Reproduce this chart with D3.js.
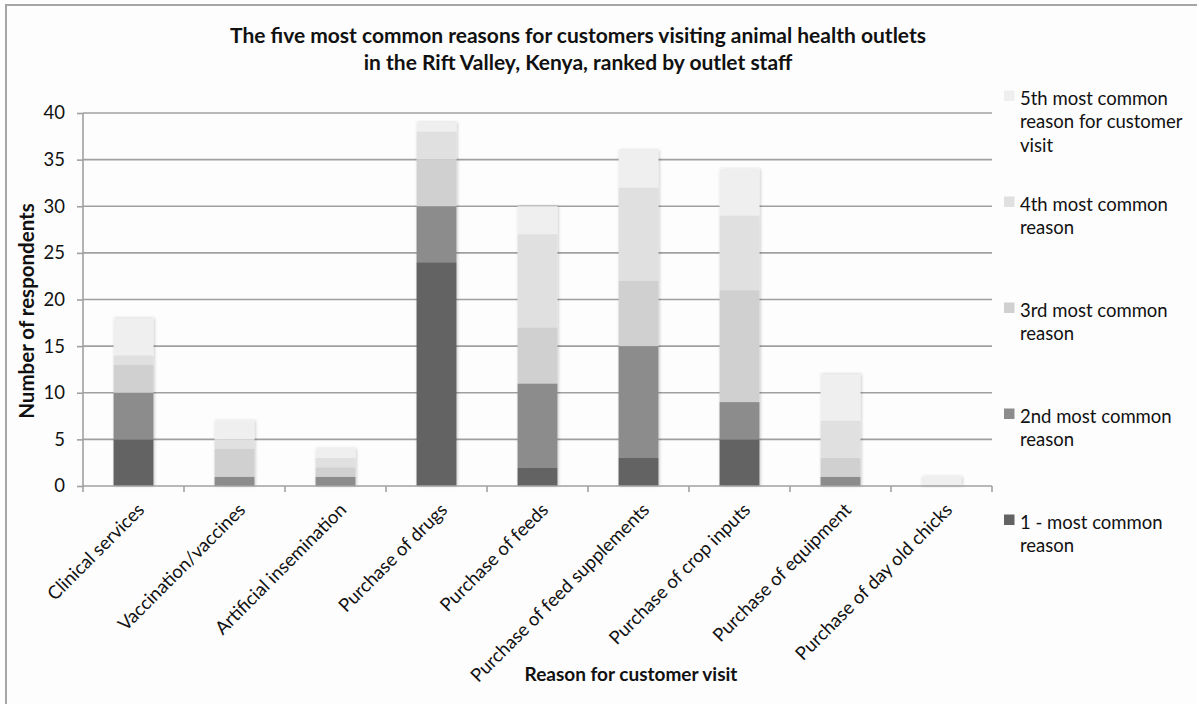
<!DOCTYPE html>
<html>
<head>
<meta charset="utf-8">
<script src="https://cdn.jsdelivr.net/npm/d3@7"></script>
<style>
  html, body { margin: 0; padding: 0; background: #fdfdfd; }
  svg { display: block; }
  text { font-family: Lato, "Open Sans", sans-serif; fill: #111; }
</style>
</head>
<body>
<svg id="chart" width="1197" height="704"></svg>
<script>
// Reasons for customer visits (categories on the x axis)
const categories = [
  "Clinical services",
  "Vaccination/vaccines",
  "Artificial insemination",
  "Purchase of drugs",
  "Purchase of feeds",
  "Purchase of feed supplements",
  "Purchase of crop inputs",
  "Purchase of equipment",
  "Purchase of day old chicks"
];

// Number of respondents per rank, stacked bottom (rank 1) to top (rank 5)
const rank1 = [5, 0, 0, 24, 2, 3, 5, 0, 0];
const rank2 = [5, 1, 1, 6, 9, 12, 4, 1, 0];
const rank3 = [3, 3, 1, 5, 6, 7, 12, 2, 0];
const rank4 = [1, 1, 1, 3, 10, 10, 8, 4, 0];
const rank5 = [4, 2, 1, 1, 3, 4, 5, 5, 1];

const seriesKeys = ["rank1", "rank2", "rank3", "rank4", "rank5"];
const seriesValues = { rank1, rank2, rank3, rank4, rank5 };
const seriesColors = ["#636363", "#8c8c8c", "#d0d0d0", "#e0e0e0", "#efefef"];

// Legend entries, listed top to bottom
const legendLabels = [
  ["5th most common", "reason for customer", "visit"],
  ["4th most common", "reason"],
  ["3rd most common", "reason"],
  ["2nd most common", "reason"],
  ["1 - most common", "reason"]
];
const legendKeys = ["rank5", "rank4", "rank3", "rank2", "rank1"];

const yTicks = [0, 5, 10, 15, 20, 25, 30, 35, 40];

const titleLines = [
  "The five most common reasons for customers visiting animal health outlets",
  "in the Rift Valley, Kenya, ranked  by outlet staff"
];

const svg = d3.select("#chart");
const W = 1197, H = 704;
const plot = { left: 83, right: 992, top: 113, bottom: 486 };
const gridColor = "#a0a0a0";

// outer chart frame
svg.append("rect")
  .attr("x", 0).attr("y", 0).attr("width", W).attr("height", H)
  .attr("fill", "#fdfdfd");
svg.append("rect")
  .attr("x", 6).attr("y", 5).attr("width", W + 10).attr("height", H + 10)
  .attr("fill", "none").attr("stroke", "#a6a6a6").attr("stroke-width", 2);

// soft shadow around bars
const defs = svg.append("defs");
const f = defs.append("filter").attr("id", "barShadow")
  .attr("x", "-20%").attr("y", "-20%").attr("width", "140%").attr("height", "140%");
f.append("feDropShadow").attr("dx", 1).attr("dy", 0).attr("stdDeviation", 1.6)
  .attr("flood-color", "#000").attr("flood-opacity", 0.22);

const x = d3.scaleBand().domain(categories).range([plot.left, plot.right]).padding(0);
const y = d3.scaleLinear().domain([0, 40]).range([plot.bottom, plot.top]);

// horizontal gridlines
svg.append("g").selectAll("line").data(yTicks.filter(d => d > 0)).join("line")
  .attr("x1", plot.left).attr("x2", plot.right)
  .attr("y1", d => y(d)).attr("y2", d => y(d))
  .attr("stroke", gridColor).attr("stroke-width", 1.6);

// stacked bars
const table = categories.map((c, i) => {
  const row = { category: c };
  seriesKeys.forEach(k => { row[k] = seriesValues[k][i]; });
  return row;
});
const stacked = d3.stack().keys(seriesKeys)(table);
const barW = x.bandwidth() * 0.395;

const barGroups = svg.append("g").selectAll("g.bar")
  .data(table.map((row, i) => ({ row, i })))
  .join("g").attr("class", "bar").attr("filter", "url(#barShadow)");

barGroups.each(function (d) {
  const g = d3.select(this);
  stacked.forEach((layer, li) => {
    const seg = layer[d.i];
    if (seg[1] - seg[0] <= 0) return;
    g.append("rect")
      .attr("x", x(d.row.category) + x.bandwidth() / 2 - barW / 2)
      .attr("width", barW)
      .attr("y", y(seg[1]))
      .attr("height", y(seg[0]) - y(seg[1]))
      .attr("fill", seriesColors[li]);
  });
});

// y axis
const yAxis = d3.axisLeft(y).tickValues(yTicks).tickSize(6).tickPadding(12);
const gy = svg.append("g").attr("transform", `translate(${plot.left},0)`).call(yAxis);
gy.select(".domain").attr("stroke", gridColor).attr("stroke-width", 1.6)
  .attr("d", `M0,${plot.top}V${plot.bottom}`);
gy.selectAll(".tick line").attr("stroke", gridColor).attr("stroke-width", 1.6);
gy.selectAll(".tick text").attr("font-size", 18.5).attr("font-family", "Lato, sans-serif")
  .attr("fill", "#111");

// x axis: baseline with ticks at category boundaries
const boundaries = d3.range(categories.length + 1).map(i => plot.left + i * x.step());
svg.append("line")
  .attr("x1", plot.left).attr("x2", plot.right)
  .attr("y1", plot.bottom).attr("y2", plot.bottom)
  .attr("stroke", gridColor).attr("stroke-width", 1.6);
svg.append("g").selectAll("line").data(boundaries).join("line")
  .attr("x1", d => d).attr("x2", d => d)
  .attr("y1", plot.bottom).attr("y2", plot.bottom + 6)
  .attr("stroke", gridColor).attr("stroke-width", 1.6);

// rotated category labels
svg.append("g").selectAll("text").data(categories).join("text")
  .attr("transform", d => `translate(${x(d) + x.bandwidth() / 2 + 12},${plot.bottom + 25}) rotate(-45)`)
  .attr("text-anchor", "end")
  .attr("font-size", 18.5)
  .text(d => d);

// axis titles
svg.append("text")
  .attr("transform", `translate(34,311) rotate(-90)`)
  .attr("text-anchor", "middle").attr("font-weight", "bold").attr("font-size", 20.5)
  .text("Number of respondents");
svg.append("text")
  .attr("x", 631).attr("y", 681)
  .attr("text-anchor", "middle").attr("font-weight", "bold").attr("font-size", 19)
  .text("Reason for customer visit");

// chart title
svg.append("text")
  .attr("text-anchor", "middle").attr("font-weight", "bold").attr("font-size", 21)
  .selectAll("tspan").data(titleLines).join("tspan")
  .attr("x", 578).attr("y", (d, i) => 43 + i * 27)
  .text(d => d);

// legend
const legendTop = [105, 211, 317, 423, 529];
const lg = svg.append("g").selectAll("g").data(legendKeys).join("g");
lg.append("rect")
  .attr("x", 1004).attr("y", (d, i) => legendTop[i] - 14.5)
  .attr("width", 10.5).attr("height", 10.5)
  .attr("fill", d => seriesColors[seriesKeys.indexOf(d)]);
lg.append("text")
  .attr("font-size", 18.5)
  .each(function (d, i) {
    d3.select(this).selectAll("tspan").data(legendLabels[i]).join("tspan")
      .attr("x", 1020).attr("y", (t, j) => legendTop[i] + j * 23.3)
      .text(t => t);
  });
</script>
</body>
</html>
